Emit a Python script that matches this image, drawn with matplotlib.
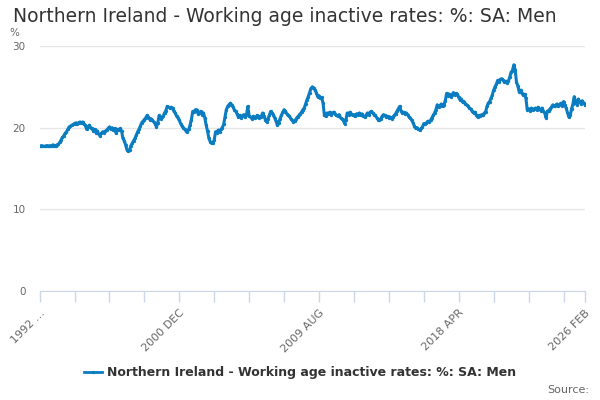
import matplotlib
matplotlib.use('Agg')
import matplotlib.pyplot as plt
from matplotlib.lines import Line2D
import numpy as np

#%% data (monthly, 1992 APR .. 2026 FEB)

title = 'Northern Ireland - Working age inactive rates: %: SA: Men'
series_name = 'Northern Ireland - Working age inactive rates: %: SA: Men'
start_year = 1992
start_month = 4

rate = [
    17.8, 17.7, 17.8, 17.7, 17.7, 17.8, 17.8, 17.7, 17.8,              # 1992
    17.8, 17.9, 17.8, 17.8, 17.9, 18.0, 18.2, 18.5, 18.8, 19.0, 19.3, 19.5,  # 1993
    19.8, 20.1, 20.2, 20.3, 20.4, 20.5, 20.6, 20.5, 20.6, 20.7, 20.6, 20.7,  # 1994
    20.4, 20.3, 19.8, 20.1, 20.3, 20.0, 19.9, 19.6, 19.8, 19.4, 19.6, 19.2,  # 1995
    19.0, 19.3, 19.5, 19.4, 19.6, 19.7, 19.9, 20.1, 19.8, 20.0, 19.7, 19.9,  # 1996
    19.3, 19.8, 19.7, 19.9, 19.6, 18.7, 18.4, 17.9, 17.3, 17.1, 17.3, 17.8,  # 1997
    18.1, 18.4, 18.7, 19.1, 19.5, 19.8, 20.2, 20.6, 20.8, 21.0, 21.2, 21.5,  # 1998
    21.3, 21.0, 21.1, 20.9, 20.7, 20.5, 20.1, 20.6, 21.5, 21.1, 21.3, 21.4,  # 1999
    21.8, 22.1, 22.6, 22.5, 22.4, 22.5, 22.4, 22.0, 21.8, 21.4, 21.2, 20.9,  # 2000
    20.5, 20.2, 20.0, 19.8, 19.6, 19.5, 19.8, 20.3, 21.0, 22.0, 21.9, 22.2,  # 2001
    22.2, 21.7, 21.8, 22.0, 21.6, 21.8, 21.2, 20.3, 19.6, 18.7, 18.3, 18.1,  # 2002
    18.1, 18.5, 19.5, 19.4, 19.7, 19.5, 19.8, 20.0, 20.4, 21.3, 22.2, 22.6,  # 2003
    22.8, 23.0, 22.8, 22.5, 22.2, 22.0, 21.7, 21.3, 21.5, 21.2, 21.4, 21.6,  # 2004
    21.3, 21.6, 22.6, 21.4, 21.3, 21.1, 21.4, 21.2, 21.3, 21.5, 21.2, 21.4,  # 2005
    21.3, 21.8, 21.4, 21.0, 20.7, 21.1, 21.5, 22.0, 21.8, 21.6, 21.2, 20.8,  # 2006
    20.3, 20.6, 21.1, 21.5, 21.9, 22.2, 22.0, 21.7, 21.5, 21.4, 21.1, 20.9,  # 2007
    20.7, 20.8, 21.1, 21.3, 21.5, 21.7, 21.9, 22.2, 22.4, 22.9, 23.4, 23.8,  # 2008
    24.3, 24.8, 25.0, 24.9, 24.6, 24.3, 23.8, 23.9, 23.6, 23.7, 23.0, 21.5,  # 2009
    21.4, 21.8, 21.7, 21.9, 21.6, 21.8, 21.9, 21.7, 21.5, 21.4, 21.6, 21.2,  # 2010
    21.1, 21.0, 20.5, 20.9, 21.8, 21.6, 21.9, 21.7, 21.5, 21.6, 21.4, 21.7,  # 2011
    21.6, 21.8, 21.5, 21.7, 21.4, 21.3, 21.5, 21.8, 21.6, 21.9, 22.0, 21.8,  # 2012
    21.6, 21.5, 21.2, 21.0, 20.9, 21.1, 21.4, 21.6, 21.5, 21.3, 21.4, 21.2,  # 2013
    21.3, 21.1, 21.3, 21.5, 21.7, 22.0, 22.3, 22.6, 22.1, 21.8, 21.9, 21.7,  # 2014
    21.8, 21.6, 21.3, 21.2, 20.9, 20.6, 20.2, 19.9, 20.0, 19.8, 19.7, 19.9,  # 2015
    20.1, 20.5, 20.4, 20.6, 20.8, 20.7, 20.9, 21.2, 21.5, 21.8, 22.2, 22.8,  # 2016
    22.5, 22.7, 22.9, 22.6, 22.8, 23.3, 24.2, 23.9, 24.1, 23.8, 24.0, 24.3,  # 2017
    24.0, 24.2, 24.1, 23.7, 23.4, 23.5, 23.1, 23.2, 22.9, 22.8, 22.6, 22.4,  # 2018
    22.3, 22.0, 21.8, 21.9, 21.6, 21.3, 21.5, 21.4, 21.6, 21.5, 21.8, 21.9,  # 2019
    22.6, 23.0, 23.2, 23.6, 24.0, 24.6, 25.0, 25.3, 25.8, 25.6, 25.9, 26.0,  # 2020
    25.8, 25.6, 25.7, 25.5, 25.7, 26.2, 26.8, 27.0, 27.7, 27.1, 25.6, 25.1,  # 2021
    24.4, 24.6, 24.2, 24.0, 24.1, 23.6, 22.2, 22.3, 22.1, 22.4, 22.2, 22.3,  # 2022
    22.4, 22.2, 22.5, 22.3, 22.1, 22.4, 22.0, 21.8, 21.2, 22.0, 22.1, 22.3,  # 2023
    22.5, 22.8, 22.6, 22.7, 22.9, 22.6, 22.8, 23.0, 22.7, 23.2, 22.8, 22.4,  # 2024
    21.8, 21.3, 21.5, 22.3, 22.9, 23.8, 23.1, 22.8, 23.5, 23.2, 22.9, 23.3,  # 2025
    23.0, 22.8,                                                        # 2026
]

yticks = [0, 10, 20, 30]
month_names = ['JAN', 'FEB', 'MAR', 'APR', 'MAY', 'JUN',
               'JUL', 'AUG', 'SEP', 'OCT', 'NOV', 'DEC']

#%% build labels

n = len(rate)
labels = []
for i in range(n):
    m = start_month - 1 + i
    labels.append('%d %s' % (start_year + m // 12, month_names[m % 12]))
labels[0] = '1992 \u2026'

tick_pos = list(range(0, n - 1, 26)) + [n - 1]
label_pos = list(range(0, n - 1, 104)) + [n - 1]

#%% plot

line_col = '#0a7cc1'
axis_col = '#ccd6eb'
text_col = '#666666'

fig = plt.figure(figsize=(6, 4), dpi=100)
ax = fig.add_axes([0.066, 0.2725, 0.909, 0.6125])

x = np.arange(n)
ax.plot(x, rate, color=line_col, lw=2.2, marker='o', ms=2.4, mew=0)

ax.set_xlim(0, n - 1)
ax.set_ylim(0, 30)
ax.set_yticks(yticks)
ax.tick_params(axis='y', length=0, labelsize=7.5, labelcolor=text_col, pad=10)
ax.grid(axis='y', color='#e6e6e6', lw=1)
ax.set_axisbelow(True)

ax.set_xticks(tick_pos)
ax.set_xticklabels([labels[p] if p in label_pos else '' for p in tick_pos],
                   rotation=45, ha='right', rotation_mode='anchor')
ax.tick_params(axis='x', length=8, width=1, color=axis_col,
               labelsize=8, labelcolor=text_col, pad=4)

for s in ['top', 'right', 'left']:
    ax.spines[s].set_visible(False)
ax.spines['bottom'].set_color(axis_col)

fig.text(0.022, 0.958, title, fontsize=13.5, color='#333333', va='center')
fig.text(0.016, 0.918, '%', fontsize=7.5, color=text_col, va='center')

h = Line2D([], [], color=line_col, lw=2, marker='o', ms=2.4, mew=0)
fig.legend([h], [series_name], loc='center', bbox_to_anchor=(0.5, 0.068),
           frameon=False, prop={'weight': 'bold', 'size': 9},
           handlelength=1.4, handletextpad=0.4, labelcolor='#333333')

fig.text(0.982, 0.025, 'Source:', fontsize=8, color=text_col,
         ha='right', va='center')

plt.savefig('out.png', dpi=100)
